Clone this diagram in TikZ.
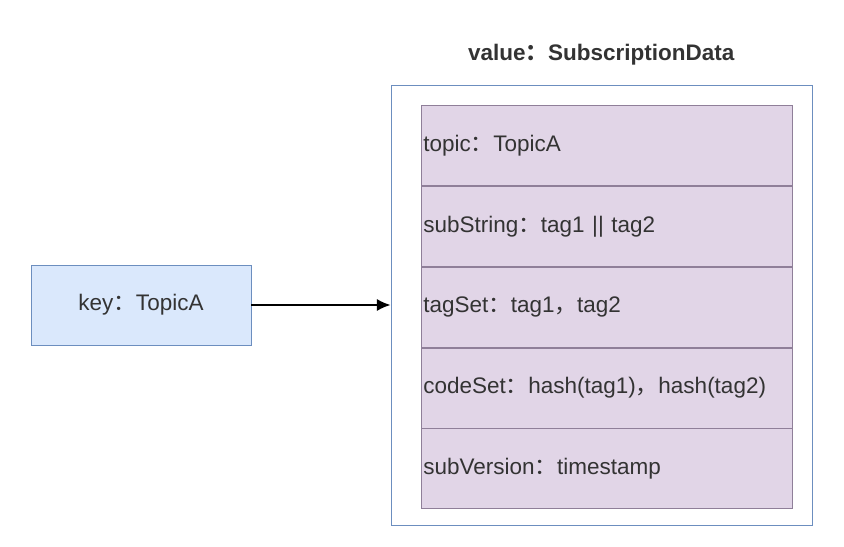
\documentclass[tikz,border=0pt]{standalone}
\usepackage{fontspec}
\setmainfont{Liberation Sans}
\newfontfamily\cjk{Noto Sans CJK SC}
\usetikzlibrary{arrows.meta,positioning}
\definecolor{keyfill}{HTML}{DAE8FC}
\definecolor{keydraw}{HTML}{6C8EBF}
\definecolor{rowfill}{HTML}{E1D5E7}
\definecolor{rowdraw}{HTML}{8F7F99}
\definecolor{ink}{HTML}{333333}
\newcommand{\fcolon}{{\cjk ：}}
\newcommand{\fcomma}{{\cjk ，}}
\tikzset{
  >={Latex[length=3.4mm,width=3mm]},
  keybox/.style={draw=keydraw,fill=keyfill,line width=.6pt,minimum width=5.5cm,
                 minimum height=2cm,font=\fontsize{16}{18}\selectfont,text=ink},
  holder/.style={draw=keydraw,fill=white,line width=.6pt,minimum width=10.525cm,
                 minimum height=11cm},
  field/.style={draw=rowdraw,fill=rowfill,line width=.6pt,minimum width=9.275cm,
                text width=9.175cm,minimum height=2cm,inner xsep=.05cm,align=left,
                font=\fontsize{16}{18}\selectfont,text=ink},
  link/.style={->,draw=black,line width=1.2pt},
}
\begin{document}
\begin{tikzpicture}
  \useasboundingbox (0,0) rectangle (21.1,13.65);
  \node[keybox] (key) at (3.525,6.025) {key\fcolon TopicA};
  \node[holder] (value) at (15.0375,6.025) {};
  \node[font=\fontsize{16}{18}\selectfont\bfseries,text=ink] (title) at (15.03,12.275)
    {value\fcolon SubscriptionData};

  % fields of the value object
  \node[field,anchor=north west] (topic) at (10.525,11.025) {topic\fcolon TopicA};
  \node[field,below=0pt of topic] (substr) {subString\fcolon tag1 || tag2};
  \node[field,below=0pt of substr] (tags) {tagSet\fcolon tag1\fcomma tag2};
  \node[field,below=0pt of tags] (codes) {codeSet\fcolon hash(tag1)\fcomma hash(tag2)};
  \node[field,below=0pt of codes] (version) {subVersion\fcolon timestamp};

  \draw[link] (key) -- (value);
\end{tikzpicture}
\end{document}
